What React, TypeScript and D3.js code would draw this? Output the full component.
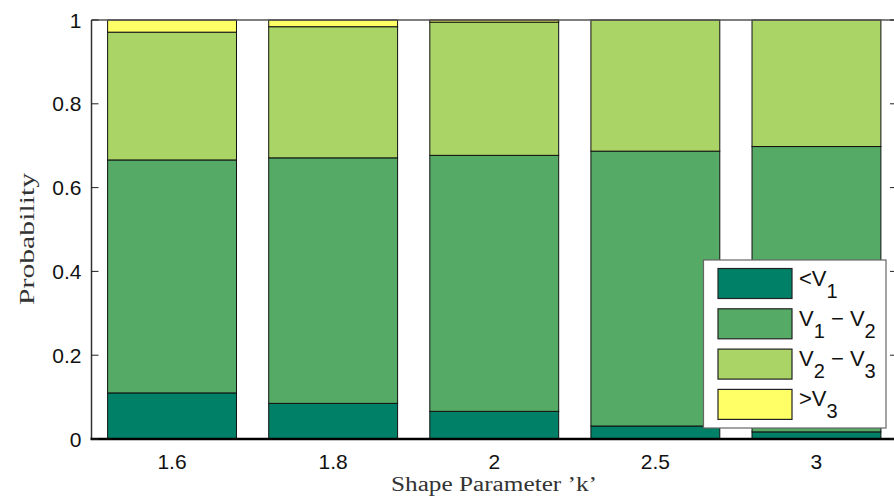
import React, { useEffect, useRef } from "react";
import * as d3 from "d3";

const categories = ["1.6", "1.8", "2", "2.5", "3"];
const seriesNames = ["belowV1", "V1toV2", "V2toV3", "aboveV3"];
const belowV1 = [0.11, 0.085, 0.066, 0.031, 0.017];
const v1ToV2 = [0.556, 0.586, 0.611, 0.656, 0.681];
const v2ToV3 = [0.305, 0.313, 0.318, 0.313, 0.302];
const aboveV3 = [0.029, 0.016, 0.005, 0.0, 0.0];
const yTicks = [0, 0.2, 0.4, 0.6, 0.8, 1];
const colors = ["#008066", "#55aa66", "#aad466", "#ffff66"];
const legendLabels = [
  { pre: "<V", sub: "1", mid: "", sub2: "" },
  { pre: "V", sub: "1", mid: " \u2212 V", sub2: "2" },
  { pre: "V", sub: "2", mid: " \u2212 V", sub2: "3" },
  { pre: ">V", sub: "3", mid: "", sub2: "" },
];

function App() {
  const ref = useRef<SVGSVGElement>(null);

  useEffect(() => {
    const svg = d3.select(ref.current);
    svg.selectAll("*").remove();
    const margin = { left: 91.5, top: 20, right: 897, bottom: 439 };
    const sans = "Liberation Sans, Arial, sans-serif";
    const serif = "Liberation Serif, Times New Roman, serif";

    const table = categories.map((c, i) => ({
      cat: c,
      belowV1: belowV1[i],
      V1toV2: v1ToV2[i],
      V2toV3: v2ToV3[i],
      aboveV3: aboveV3[i],
    }));
    const stacked = d3.stack<any>().keys(seriesNames)(table);

    const x = d3
      .scaleBand()
      .domain(categories)
      .range([margin.left, margin.right])
      .paddingInner(0.2)
      .paddingOuter(0.1);
    const y = d3.scaleLinear().domain([0, 1]).range([margin.bottom, margin.top]);

    // bars
    svg
      .append("g")
      .selectAll("g")
      .data(stacked)
      .join("g")
      .attr("fill", (d, i) => colors[i])
      .selectAll("rect")
      .data((d) => d.filter((p) => p[1] - p[0] > 0))
      .join("rect")
      .attr("x", (d: any) => x(d.data.cat)!)
      .attr("width", x.bandwidth())
      .attr("y", (d) => y(d[1]))
      .attr("height", (d) => y(d[0]) - y(d[1]))
      .attr("stroke", "#111")
      .attr("stroke-width", 1);

    // frame
    svg
      .append("line")
      .attr("x1", margin.left)
      .attr("x2", margin.right)
      .attr("y1", margin.top)
      .attr("y2", margin.top)
      .attr("stroke", "#555")
      .attr("stroke-width", 1.5);
    svg
      .append("line")
      .attr("x1", margin.left)
      .attr("x2", margin.left)
      .attr("y1", margin.top)
      .attr("y2", margin.bottom)
      .attr("stroke", "#333")
      .attr("stroke-width", 1.5);
    svg
      .append("line")
      .attr("x1", margin.right)
      .attr("x2", margin.right)
      .attr("y1", margin.top)
      .attr("y2", margin.bottom)
      .attr("stroke", "#333")
      .attr("stroke-width", 1.5);
    svg
      .append("line")
      .attr("x1", margin.left - 1)
      .attr("x2", margin.right)
      .attr("y1", margin.bottom)
      .attr("y2", margin.bottom)
      .attr("stroke", "#000")
      .attr("stroke-width", 2.5);

    // y ticks
    const yt = svg.append("g");
    yTicks.forEach((t) => {
      yt.append("line")
        .attr("x1", margin.left)
        .attr("x2", margin.left + 7)
        .attr("y1", y(t))
        .attr("y2", y(t))
        .attr("stroke", "#222");
      yt.append("line")
        .attr("x1", margin.right)
        .attr("x2", margin.right - 7)
        .attr("y1", y(t))
        .attr("y2", y(t))
        .attr("stroke", "#222");
      yt.append("text")
        .text(d3.format("~g")(t))
        .attr("x", margin.left - 10)
        .attr("y", y(t) + 7.5)
        .attr("text-anchor", "end")
        .attr("font-family", sans)
        .attr("font-size", 21)
        .attr("fill", "#111");
    });

    // x tick labels
    categories.forEach((c) => {
      svg
        .append("text")
        .text(c)
        .attr("x", x(c)! + x.bandwidth() / 2)
        .attr("y", 469)
        .attr("text-anchor", "middle")
        .attr("font-family", sans)
        .attr("font-size", 21)
        .attr("fill", "#111");
    });

    // axis labels
    svg
      .append("text")
      .text("Shape Parameter \u2019k\u2019")
      .attr("x", 494)
      .attr("y", 491)
      .attr("text-anchor", "middle")
      .attr("font-family", serif)
      .attr("font-size", 20)
      .attr("textLength", 206)
      .attr("lengthAdjust", "spacingAndGlyphs")
      .attr("fill", "#333");
    svg
      .append("text")
      .text("Probability")
      .attr("transform", "translate(34,239) rotate(-90)")
      .attr("text-anchor", "middle")
      .attr("font-family", serif)
      .attr("font-size", 21)
      .attr("textLength", 132)
      .attr("lengthAdjust", "spacingAndGlyphs")
      .attr("fill", "#333");

    // legend
    const lg = svg.append("g").attr("transform", "translate(703.5,260)");
    lg.append("rect")
      .attr("width", 182.5)
      .attr("height", 168)
      .attr("fill", "#fff")
      .attr("stroke", "#666")
      .attr("stroke-width", 1.2);
    legendLabels.forEach((l, i) => {
      const row = lg.append("g").attr("transform", `translate(0,${8.5 + i * 40.3})`);
      row
        .append("rect")
        .attr("x", 14.5)
        .attr("width", 74)
        .attr("height", 30)
        .attr("fill", colors[i])
        .attr("stroke", "#222")
        .attr("stroke-width", 1.2);
      const t = row
        .append("text")
        .attr("x", 95.5)
        .attr("y", 17)
        .attr("font-family", sans)
        .attr("font-size", 22)
        .attr("fill", "#111");
      t.append("tspan").text(l.pre);
      t.append("tspan").text(l.sub).attr("dy", 12).attr("font-size", 20);
      if (l.mid) {
        t.append("tspan").text(l.mid).attr("dy", -12);
        t.append("tspan").text(l.sub2).attr("dy", 12).attr("font-size", 20);
      }
    });
  }, []);

  return (
    <svg
      ref={ref}
      width={894}
      height={502}
      style={{ position: "absolute", left: 0, top: 0, background: "#fff" }}
    ></svg>
  );
}

export default App;
